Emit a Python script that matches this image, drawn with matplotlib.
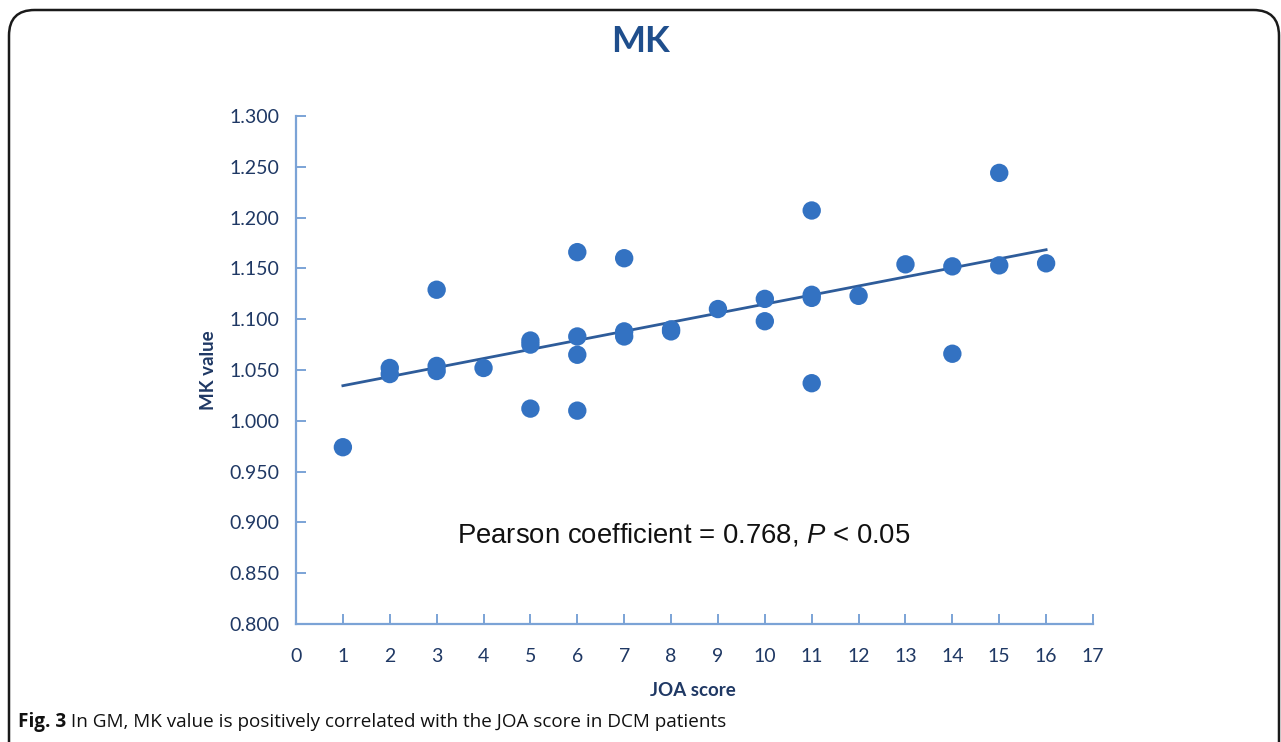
import numpy as np
import matplotlib
matplotlib.use("Agg")
import matplotlib.pyplot as plt
from matplotlib.patches import FancyBboxPatch

# Data
joa_score = [1,
             2, 2,
             3, 3, 3,
             4,
             5, 5, 5,
             6, 6, 6, 6,
             7, 7, 7,
             8, 8,
             9,
             10, 10,
             11, 11, 11, 11,
             12,
             13,
             14, 14,
             15, 15,
             16]
mk_value = [0.974,
            1.052, 1.046,
            1.129, 1.054, 1.049,
            1.052,
            1.079, 1.075, 1.012,
            1.166, 1.083, 1.065, 1.010,
            1.160, 1.088, 1.083,
            1.090, 1.088,
            1.110,
            1.120, 1.098,
            1.207, 1.124, 1.121, 1.037,
            1.123,
            1.154,
            1.152, 1.066,
            1.244, 1.153,
            1.155]
x_ticks = list(range(0, 18))
y_ticks = [0.800, 0.850, 0.900, 0.950, 1.000, 1.050, 1.100, 1.150, 1.200, 1.250, 1.300]

title = "MK"
xlabel = "JOA score"
ylabel = "MK value"
annotation = "Pearson coefficient = 0.768, $P$ < 0.05"
caption_bold = "Fig. 3"
caption_text = " In GM, MK value is positively correlated with the JOA score in DCM patients"

plt.rcParams['mathtext.fontset'] = 'custom'
plt.rcParams['mathtext.rm'] = 'Liberation Sans'
plt.rcParams['mathtext.it'] = 'Liberation Sans:italic'

W, H = 1281, 742
fig = plt.figure(figsize=(W / 100, H / 100), dpi=100)

# rounded border
border = FancyBboxPatch((9 / W, -0.2), (1279 - 9) / W, (742 - 10) / H + 0.2,
                        boxstyle="round,pad=0,rounding_size=0.02",
                        transform=fig.transFigure, fill=False,
                        edgecolor="#1a1a1a", linewidth=1.8, zorder=0,
                        mutation_aspect=W / H)
fig.patches.append(border)

ax = fig.add_axes([296 / W, 1 - 624 / H, (1093 - 296) / W, (624 - 116) / H])

marker_color = "#3372C2"
line_color = "#2E5C9A"
axis_color = "#7BA3D6"
label_color = "#1F3864"
title_color = "#1F4E8C"

ax.scatter(joa_score, mk_value, s=175, color=marker_color, edgecolors="none", zorder=3)

coef = np.polyfit(joa_score, mk_value, 1)
xs = np.array([min(joa_score), max(joa_score)])
ax.plot(xs, np.polyval(coef, xs), color=line_color, linewidth=2, zorder=2)

ax.set_xlim(0, 17)
ax.set_ylim(0.8, 1.3)
ax.set_xticks(x_ticks)
ax.set_yticks(y_ticks)
ax.set_yticklabels([f"{v:.3f}" for v in y_ticks])
for s in ["top", "right"]:
    ax.spines[s].set_visible(False)
for s in ["left", "bottom"]:
    ax.spines[s].set_color(axis_color)
    ax.spines[s].set_linewidth(1.6)
ax.tick_params(direction="in", length=7, width=1.4, color=axis_color,
               labelcolor=label_color, labelsize=14)
ax.tick_params(axis="x", pad=17)
ax.tick_params(axis="y", pad=12)
for lab in ax.get_xticklabels() + ax.get_yticklabels():
    lab.set_fontfamily("Lato")

fig.text(640 / W, 1 - 41 / H, title, ha="center", va="center", fontsize=26,
         fontweight="bold", color=title_color, family="Lato")
fig.text(693 / W, 1 - 690 / H, xlabel, ha="center", va="center", fontsize=13.5,
         fontweight="bold", color=label_color, family="Lato")
fig.text(208 / W, 1 - 370 / H, ylabel, ha="center", va="center", fontsize=13.5,
         fontweight="bold", color=label_color, family="Lato", rotation=90)
fig.text(684 / W, 1 - 535 / H, annotation, ha="center", va="center", fontsize=19.8,
         color="#111111", family="Liberation Sans")

t1 = fig.text(18 / W, 1 - 722 / H, caption_bold, ha="left", va="center", fontsize=13.6,
              fontweight="bold", color="#111111", family="Open Sans")
fig.canvas.draw()
bb = t1.get_window_extent()
fig.text(bb.x1 / W, 1 - 722 / H, caption_text, ha="left", va="center", fontsize=13.6,
         color="#111111", family="Open Sans")

fig.savefig("out.png", dpi=100)
